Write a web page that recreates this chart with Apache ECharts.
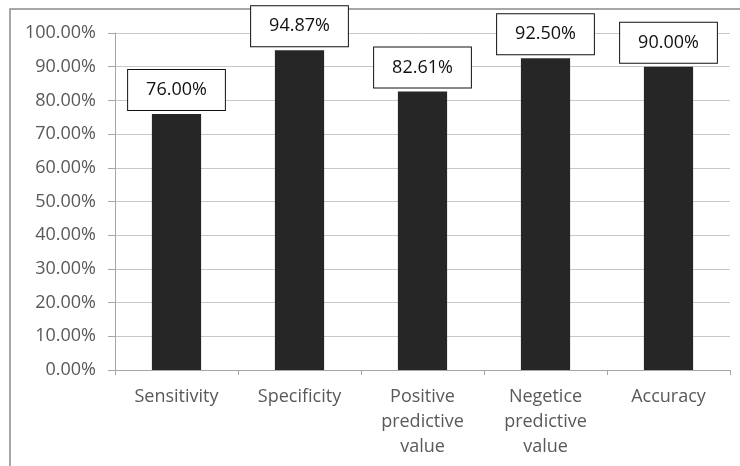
<!DOCTYPE html>
<html>
<head>
<meta charset="utf-8">
<script src="https://cdn.jsdelivr.net/npm/echarts@6/dist/echarts.min.js"></script>
<style>
  html, body { margin: 0; padding: 0; background: #fff; }
  #chart { width: 740px; height: 466px; }
</style>
</head>
<body>
<div id="chart"></div>
<script>
// Diagnostic performance measures (percent)
const categories = ['Sensitivity', 'Specificity', 'Positive\npredictive\nvalue', 'Negetice\npredictive\nvalue', 'Accuracy'];
const values = [76.00, 94.87, 82.61, 92.50, 90.00];
const yMin = 0;
const yMax = 100;
const yStep = 10;

const FONT = '"Open Sans", "Noto Sans", sans-serif';

const chart = echarts.init(document.getElementById('chart'), null, { renderer: 'canvas' });

chart.setOption({
  animation: false,
  backgroundColor: '#ffffff',
  graphic: [{
    type: 'rect',
    shape: { x: 10, y: 9, width: 760, height: 480 },
    style: { fill: 'none', stroke: '#8a8a8a', lineWidth: 1.5 },
    silent: true
  }],
  grid: { left: 115, right: 10, top: 33, bottom: 96, containLabel: false },
  xAxis: {
    type: 'category',
    data: categories,
    axisLine: { show: true, lineStyle: { color: '#a6a6a6', width: 1 } },
    axisTick: { show: true, length: 5, alignWithLabel: false, lineStyle: { color: '#a6a6a6' } },
    axisLabel: {
      margin: 14,
      color: '#595959',
      fontFamily: FONT,
      fontSize: 18,
      lineHeight: 25,
      interval: 0
    }
  },
  yAxis: {
    type: 'value',
    min: yMin,
    max: yMax,
    interval: yStep,
    axisLine: { show: true, lineStyle: { color: '#a6a6a6', width: 1 } },
    axisTick: { show: true, length: 7, lineStyle: { color: '#a6a6a6' } },
    splitLine: { show: true, lineStyle: { color: '#c8c8c8', width: 1 } },
    axisLabel: {
      margin: 19,
      color: '#595959',
      fontFamily: FONT,
      fontSize: 18,
      formatter: v => v.toFixed(2) + '%'
    }
  },
  series: [{
    type: 'bar',
    data: values,
    barWidth: '40%',
    itemStyle: { color: '#262626' },
    label: {
      show: true,
      position: 'top',
      distance: 4,
      formatter: p => p.value.toFixed(2) + '%',
      color: '#111111',
      fontFamily: FONT,
      fontSize: 18,
      lineHeight: 22,
      backgroundColor: '#ffffff',
      borderColor: '#111111',
      borderWidth: 1,
      padding: [9, 18, 9, 18]
    }
  }]
});
</script>
</body>
</html>
